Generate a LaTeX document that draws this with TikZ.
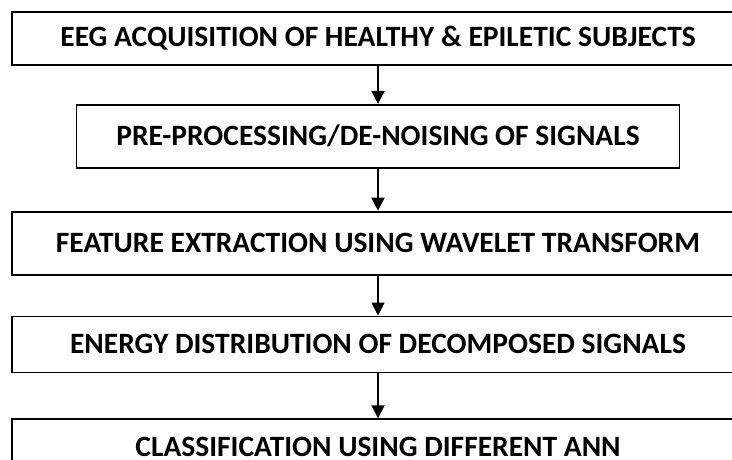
\documentclass[tikz,border=0pt]{standalone}
\usepackage{fontspec}
\setmainfont{Carlito}
\usetikzlibrary{positioning}
\usetikzlibrary{arrows.meta}
\tikzstyle{arrow} = [line width=1.8pt,-{Triangle[length=13pt,width=13pt]}]
\tikzstyle{stage} = [draw,line width=1.8pt,font=\fontsize{29.5}{32}\selectfont\bfseries,align=center]

\begin{document}
\begin{tikzpicture}
	%Frame
	\useasboundingbox (0,0) rectangle (732pt,-459pt);
	\clip (0,0) rectangle (732pt,-459pt);
	
	%Nodes
	\node [stage,minimum width=732pt,minimum height=53pt] (acq) at (378pt,-38.5pt) {EEG ACQUISITION OF HEALTHY \& EPILETIC SUBJECTS};
	\node [stage,minimum width=603pt,minimum height=63pt,below=38pt of acq] (prep) {PRE-PROCESSING/DE-NOISING OF SIGNALS};
	\node [stage,minimum width=732pt,minimum height=63pt,below=42pt of prep] (feat) {FEATURE EXTRACTION USING WAVELET TRANSFORM};
	\node [stage,minimum width=732pt,minimum height=56pt,below=40pt of feat] (energy) {ENERGY DISTRIBUTION OF DECOMPOSED SIGNALS};
	\node [stage,minimum width=732pt,minimum height=56pt,below=45pt of energy] (classif) {CLASSIFICATION USING DIFFERENT ANN};
	
	%Lines
	\draw[arrow] (acq) -- (prep);
	\draw[arrow] (prep) -- (feat);
	\draw[arrow] (feat) -- (energy);
	\draw[arrow] (energy) -- (classif);
\end{tikzpicture}
\end{document}
